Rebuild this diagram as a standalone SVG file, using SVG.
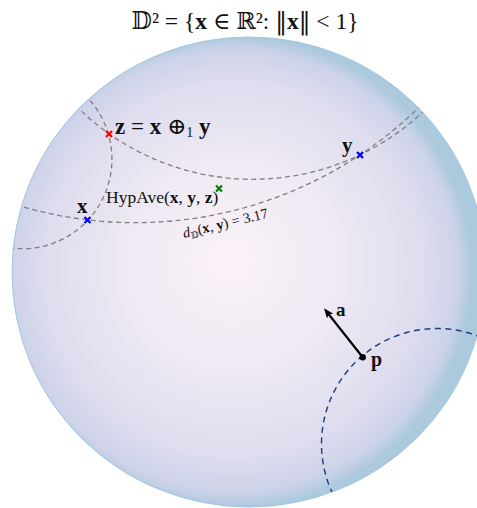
<svg xmlns="http://www.w3.org/2000/svg" width="477" height="508" viewBox="0 0 477 508">
  <style>
    text { font-family: "Liberation Serif", "DejaVu Serif", serif; fill: #111; }
    .b { font-weight: bold; }
    .m { font-family: "DejaVu Serif", serif; font-weight: normal; }
    .geo { fill: none; stroke: #7f7f7f; stroke-width: 1.3; stroke-dasharray: 5 3.5; }
    .hyp { fill: none; stroke: #17407e; stroke-width: 1.4; stroke-dasharray: 6 4.5; }
    .cross { fill: none; stroke-width: 2.2; stroke-linecap: butt; }
  </style>
  <defs>
    <radialGradient id="ball" cx="0.47" cy="0.5" r="0.5" fx="0.46" fy="0.47">
      <stop offset="0" stop-color="#fbf2f8"/>
      <stop offset="0.45" stop-color="#eee9f3"/>
      <stop offset="0.8" stop-color="#dedcee"/>
      <stop offset="0.94" stop-color="#cdd3e9"/>
      <stop offset="1" stop-color="#adc9de"/>
    </radialGradient>
    <clipPath id="diskclip">
      <ellipse cx="249" cy="272" rx="237" ry="235"/>
    </clipPath>
    <path id="xmark" d="M-3,-3 L3,3 M-3,3 L3,-3"/>
    <marker id="arrowhead" markerUnits="userSpaceOnUse" markerWidth="11" markerHeight="9" refX="5" refY="4" orient="auto">
      <path d="M0,0 L10,4 L0,8 L2.5,4 z" fill="#000"/>
    </marker>
  </defs>

  <g id="title">
    <text x="245" y="29" font-size="23.5" text-anchor="middle">𝔻² = {<tspan class="b">x</tspan> <tspan class="m">∈</tspan> ℝ²: <tspan class="m">‖</tspan><tspan class="b">x</tspan><tspan class="m">‖</tspan> &lt; 1}</text>
  </g>

  <g id="disk">
    <ellipse cx="249" cy="272" rx="237" ry="235" fill="url(#ball)" stroke="#9cc3da" stroke-width="0.9"/>
  </g>

  <g id="connectors" clip-path="url(#diskclip)">
    <path id="geodesic-zy" class="geo" d="M 69.6 99.1 A 248.9 248.9 0 0 0 429.0 106.0"/>
    <path id="geodesic-xy" class="geo" d="M 7.8 202.2 A 406.7 406.7 0 0 0 425.6 100.7"/>
    <path id="geodesic-xz" class="geo" d="M 84.3 94.4 A 89.6 89.6 0 0 1 7.0 247.4"/>
    <path id="hyperplane" class="hyp" d="M 491.2 342.0 A 115.5 115.5 0 0 0 337.0 501.8"/>
    <line id="arrow-a" x1="362.7" y1="357.3" x2="327.1" y2="312.2" stroke="#000" stroke-width="2.2" marker-end="url(#arrowhead)"/>
  </g>

  <g id="node-z">
    <use href="#xmark" x="109" y="134" class="cross" stroke="#ff0000"/>
    <text x="115" y="134" font-size="23"><tspan class="b">z</tspan> = <tspan class="b">x</tspan> <tspan class="m">⊕</tspan><tspan font-size="14" dy="3">1</tspan> <tspan class="b" dy="-3">y</tspan></text>
  </g>

  <g id="node-x">
    <use href="#xmark" x="87.5" y="220" class="cross" stroke="#0000ff"/>
    <text x="77" y="213" font-size="21" class="b">x</text>
  </g>

  <g id="node-y">
    <use href="#xmark" x="360" y="155" class="cross" stroke="#0000ff"/>
    <text x="342" y="152" font-size="21" class="b">y</text>
  </g>

  <g id="node-hypave">
    <use href="#xmark" x="219" y="188.5" class="cross" stroke="#008000"/>
    <text x="106" y="203" font-size="17.5">HypAve(<tspan class="b">x</tspan>, <tspan class="b">y</tspan>, <tspan class="b">z</tspan>)</text>
  </g>

  <g id="distance-label">
    <text x="184" y="238" font-size="14.5" transform="rotate(-13.5 184 238)"><tspan font-style="italic">d</tspan><tspan font-size="9" dy="2.5">𝔻</tspan><tspan dy="-2.5">(</tspan><tspan class="b">x</tspan>, <tspan class="b">y</tspan>) = 3.17</text>
  </g>

  <g id="node-p">
    <circle cx="362.7" cy="357.3" r="3.2" fill="#000"/>
    <text x="371" y="366" font-size="20" class="b">p</text>
  </g>

  <g id="label-a">
    <text x="336" y="316" font-size="19" class="b">a</text>
  </g>
</svg>
